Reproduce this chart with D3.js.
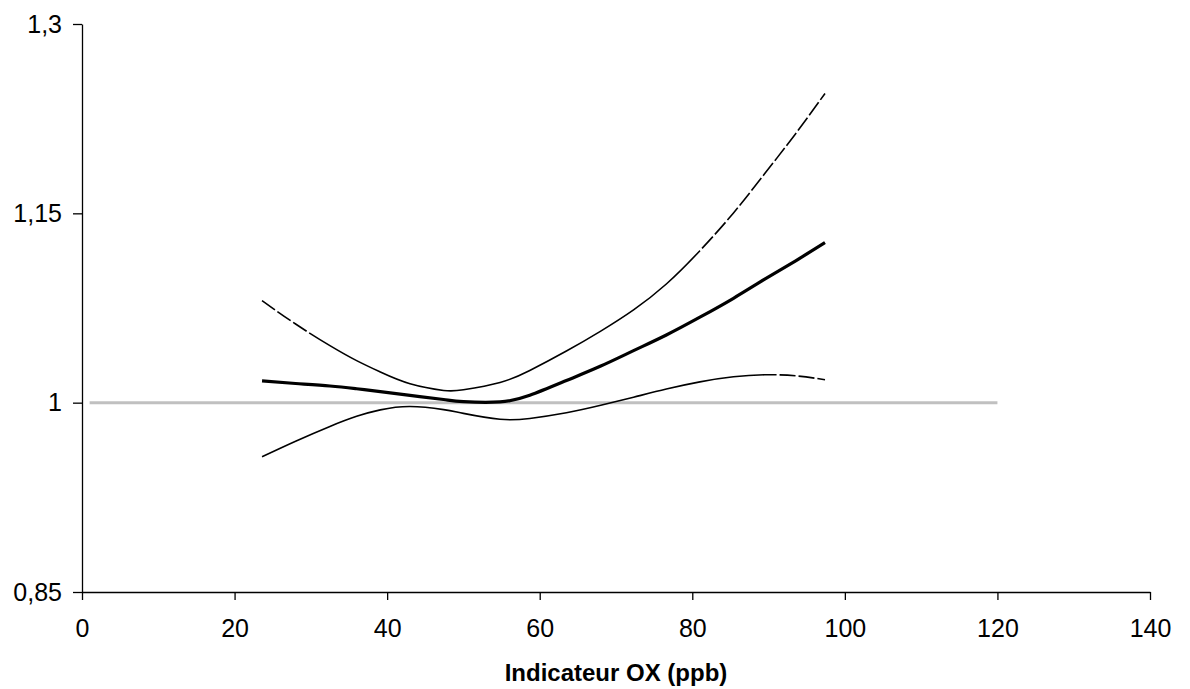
<!DOCTYPE html>
<html>
<head>
<meta charset="utf-8">
<script src="https://cdn.jsdelivr.net/npm/d3@7"></script>
<style>
  body { margin: 0; background: #fff; }
  text { font-family: "Liberation Sans", Arial, sans-serif; }
</style>
</head>
<body>
<div id="chart"></div>
<script>
// données
var ozone = [23.6, 28, 32.5, 36, 39.1, 43, 47.4, 50, 54.8, 58.7, 63.5, 68, 72.3, 76.6, 81, 85.4, 89.5, 93.5, 97.4];
var rr    = [1.0172, 1.0152, 1.0132, 1.011, 1.0088, 1.0058, 1.0025, 1.0008, 1.0006, 1.0058, 1.0175, 1.029, 1.0412, 1.0536, 1.0677, 1.0827, 1.0978, 1.1122, 1.1268];
var rrHaut = [1.0808, 1.0623, 1.0452, 1.0333, 1.0243, 1.0150, 1.0097, 1.0102, 1.0160, 1.0255, 1.0409, 1.0567, 1.0735, 1.0940, 1.1204, 1.1503, 1.1815, 1.2127, 1.2450];
var rrBas  = [0.9572, 0.9695, 0.9812, 0.9892, 0.9943, 0.9970, 0.9945, 0.9915, 0.9868, 0.9875, 0.9920, 0.9979, 1.0043, 1.0108, 1.0165, 1.0205, 1.0221, 1.0213, 1.0182];
var refX = [1, 120];
var refY = [1, 1];
var xTicks = [0, 20, 40, 60, 80, 100, 120, 140];
var yTicks = [0.85, 1, 1.15, 1.3];
var yTickLabels = ["0,85", "1", "1,15", "1,3"];

var width = 1190;
var height = 689;

var xScale = d3.scaleLinear().domain([0, 140]).range([82, 1150]);
var yScale = d3.scaleLinear().domain([0.85, 1.3]).range([592, 24]);

var svg = d3.select("#chart").append("svg")
    .attr("width", width)
    .attr("height", height);

// ligne de référence (RR = 1)
svg.append("path")
    .datum(refX.map(function (d, i) { return [d, refY[i]]; }))
    .attr("d", d3.line()
        .x(function (d) { return xScale(d[0]); })
        .y(function (d) { return yScale(d[1]); }))
    .attr("fill", "none")
    .attr("stroke", "#c0c0c0")
    .attr("stroke-width", 3);

var line = d3.line()
    .x(function (d) { return xScale(d[0]); })
    .y(function (d) { return yScale(d[1]); })
    .curve(d3.curveNatural);

function serie(vals) {
    return ozone.map(function (d, i) { return [d, vals[i]]; });
}

// longueur du chemin jusqu'à une abscisse donnée
function lengthAt(node, px) {
    var total = node.getTotalLength();
    for (var l = 0; l <= total; l += 0.5) {
        if (node.getPointAtLength(l).x >= px) return l;
    }
    return total;
}

// pointillés aux extrémités (comme dans l'original)
function dashEnds(path, xa, xb) {
    var node = path.node();
    var total = node.getTotalLength();
    var l0 = xa == null ? 0 : lengthAt(node, xScale(xa));
    var l1 = xb == null ? total : lengthAt(node, xScale(xb));
    var arr = [];
    var pos = 0;
    while (pos < l0) { arr.push(16, 3); pos += 19; }
    arr.push(Math.max(l1 - pos, 1), 3);
    pos = l1 + 3;
    while (pos < total) { arr.push(16, 3); pos += 19; }
    arr.push(10, total + 10);
    path.attr("stroke-dasharray", arr.join(" "));
}

var pHaut = svg.append("path")
    .datum(serie(rrHaut))
    .attr("d", line)
    .attr("fill", "none")
    .attr("stroke", "#000")
    .attr("stroke-width", 1.6);
dashEnds(pHaut, 29, 81);

var pBas = svg.append("path")
    .datum(serie(rrBas))
    .attr("d", line)
    .attr("fill", "none")
    .attr("stroke", "#000")
    .attr("stroke-width", 1.6);
dashEnds(pBas, null, 91);

svg.append("path")
    .datum(serie(rr))
    .attr("d", line)
    .attr("fill", "none")
    .attr("stroke", "#000")
    .attr("stroke-width", 3.2);

// axes
var xAxis = d3.axisBottom(xScale)
    .tickValues(xTicks)
    .tickSize(8)
    .tickSizeOuter(0)
    .tickPadding(19);

var yAxis = d3.axisLeft(yScale)
    .tickValues(yTicks)
    .tickFormat(function (d, i) { return yTickLabels[i]; })
    .tickSize(9)
    .tickSizeOuter(0)
    .tickPadding(11);

var gx = svg.append("g")
    .attr("transform", "translate(0," + yScale(0.85) + ")")
    .call(xAxis);

var gy = svg.append("g")
    .attr("transform", "translate(" + xScale(0) + ",0)")
    .call(yAxis);

[gx, gy].forEach(function (g) {
    g.selectAll("path, line").attr("stroke", "#000").attr("stroke-width", 1.3);
    g.selectAll("text")
        .attr("fill", "#000")
        .style("font-size", "25px")
        .style("font-family", "'Liberation Sans', Arial, sans-serif");
});

svg.append("text")
    .attr("x", (xScale(0) + xScale(140)) / 2)
    .attr("y", 681)
    .attr("text-anchor", "middle")
    .style("font-size", "24px")
    .style("font-weight", "bold")
    .text("Indicateur OX (ppb)");
</script>
</body>
</html>
